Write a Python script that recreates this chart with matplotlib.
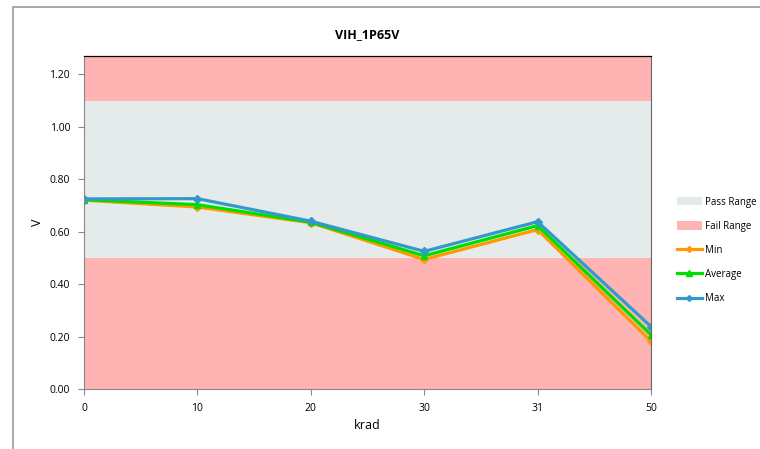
import matplotlib.pyplot as plt
from matplotlib.patches import Rectangle, Patch
from matplotlib.lines import Line2D
import numpy as np

krad = ['0', '10', '20', '30', '31', '50']
v_min = [0.720, 0.694, 0.634, 0.494, 0.608, 0.182]
v_avg = [0.722, 0.703, 0.636, 0.508, 0.623, 0.207]
v_max = [0.725, 0.726, 0.640, 0.525, 0.638, 0.238]

# stacked area bands: fail below, pass, fail above
fail_low = [0.50] * 6
pass_band = [0.60] * 6
fail_high = [0.17] * 6

PASS = '#E5EBEB'
FAIL = '#FFB3B3'

plt.rcParams['font.family'] = ['Open Sans', 'DejaVu Sans']

fig = plt.figure(figsize=(7.6, 4.49), dpi=100)
ax = fig.add_axes([84 / 760, 1 - 389 / 449, (651 - 84) / 760, (389 - 56) / 449])

x = np.arange(len(krad))
ax.stackplot(x, fail_low, pass_band, fail_high, colors=[FAIL, PASS, FAIL], linewidth=0)

ax.plot(x, v_min, color='#FF9900', lw=2.3, marker='D', ms=4, label='Min')
ax.plot(x, v_avg, color='#00DD00', lw=2.3, marker='^', ms=5, label='Average')
ax.plot(x, v_max, color='#3399CC', lw=2.3, marker='D', ms=4, label='Max')

ax.set_xlim(0, 5)
ax.set_ylim(0, 1.27)
ax.set_xticks(x)
ax.set_xticklabels(krad)
ax.set_yticks(np.arange(0, 1.21, 0.2))
ax.set_yticklabels(['%.2f' % t for t in np.arange(0, 1.21, 0.2)])
ax.tick_params(labelsize=7.5, direction='out', length=4, color='#888888', pad=6)
for s in ['left', 'bottom']:
    ax.spines[s].set_color('#888888')
ax.spines['right'].set_color('#666666')
ax.spines['top'].set_color('black')
ax.spines['top'].set_linewidth(0.9)

ax.set_xlabel('krad', fontsize=9)
ax.set_ylabel('V', fontsize=9)
ax.set_title('VIH_1P65V', fontsize=9, fontweight='bold', pad=13)

# chart frame
fig.patches.append(Rectangle((13 / 760, -0.1), 1.2, 1 - 7 / 449 + 0.1,
                             transform=fig.transFigure, fill=False,
                             edgecolor='#999999', lw=1.2))

handles = [
    Patch(facecolor=PASS, edgecolor='none', label='Pass Range'),
    Patch(facecolor=FAIL, edgecolor='none', label='Fail Range'),
    Line2D([], [], color='#FF9900', lw=2.3, marker='D', ms=3, label='Min'),
    Line2D([], [], color='#00DD00', lw=2.3, marker='^', ms=4, label='Average'),
    Line2D([], [], color='#3399CC', lw=2.3, marker='D', ms=3, label='Max'),
]
fig.legend(handles=handles, loc='upper left', bbox_to_anchor=(668 / 760, 1 - 188 / 449),
           frameon=False, fontsize=7, labelspacing=1.35, handlelength=2.6,
           handletextpad=0.3, handleheight=0.9)

fig.savefig('out.png', dpi=100)
